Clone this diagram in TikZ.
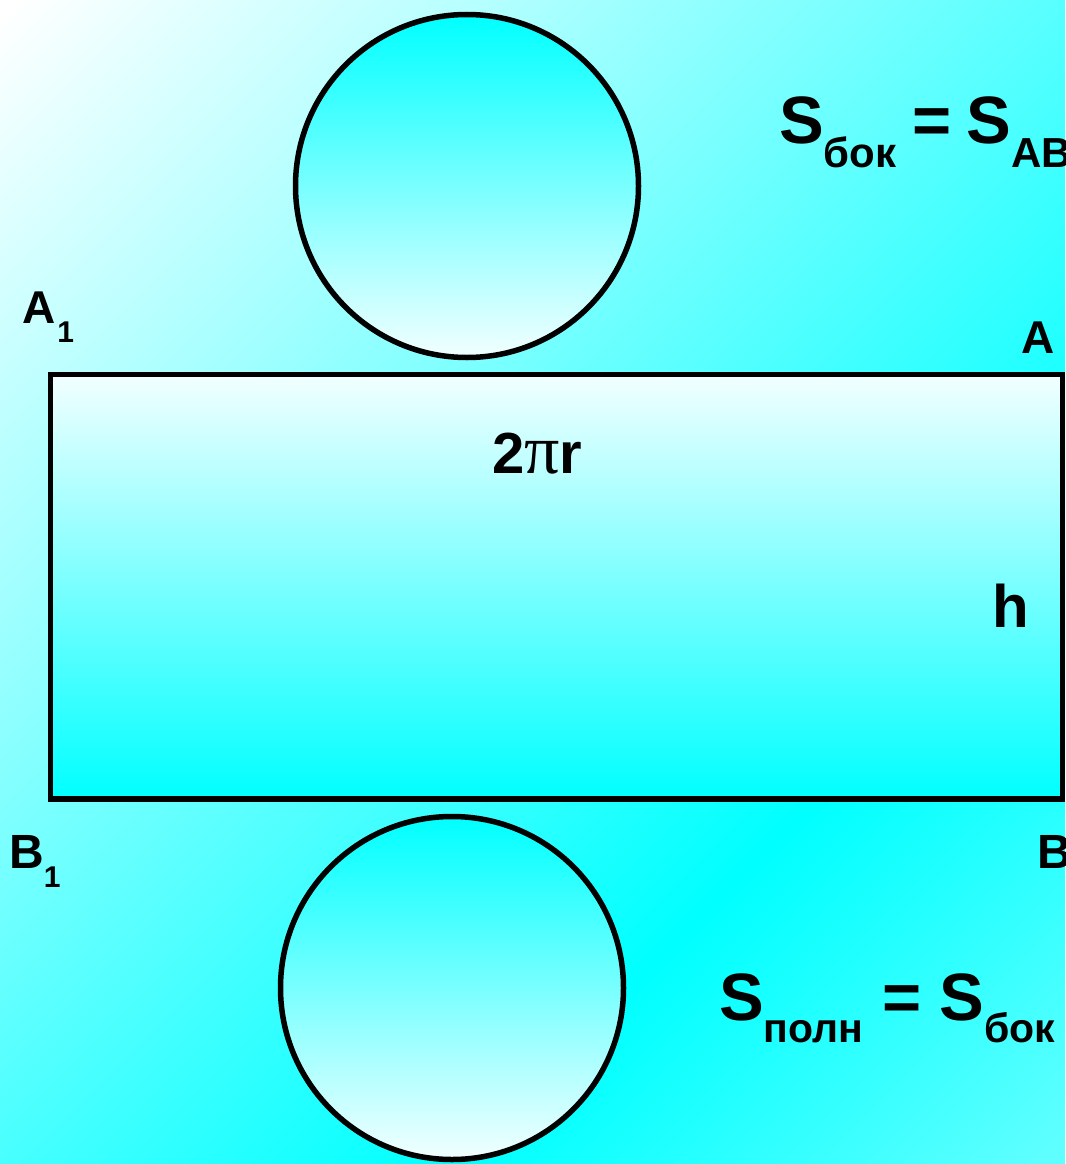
\documentclass[tikz,border=0pt]{standalone}
\usepackage{fontspec}
\setmainfont{Liberation Sans}
\newfontfamily\greekserif{Liberation Serif}
\definecolor{bgend}{HTML}{60FFFF}
\definecolor{lightc}{HTML}{F2FFFF}
\pgfdeclarehorizontalshading{bgshade}{100bp}{color(0bp)=(white); color(15bp)=(white); color(66bp)=(cyan); color(85bp)=(bgend); color(100bp)=(bgend)}
\newcommand\subtxt[3]{\raisebox{-#1pt}{\fontsize{#2}{#2}\selectfont #3}}
\tikzset{
  outline/.style={draw=black, line width=5.5pt},
  lbl/.style={anchor=base west, inner sep=0pt, font=\bfseries},
  disc/.style={circle, outline, inner sep=0pt, minimum size=343pt, top color=cyan, bottom color=lightc},
}
\begin{document}
\begin{tikzpicture}[x=1pt, y=-1pt]
\useasboundingbox (0,0) rectangle (1065,1164);
\begin{scope}
\clip (0,0) rectangle (1065,1164);
\shade[shading=bgshade, shading angle=-45] (0,0) rectangle (1065,1164);
% net of cylinder
\node[disc] (topdisc) at (467,186) {};
\node[disc] (botdisc) at (452,988) {};
\draw[outline, top color=lightc, bottom color=cyan] (50.5,374.5) rectangle (1062.5,799);
% vertex labels
\node[lbl] (A1) at (22,323) {\fontsize{46}{46}\selectfont A\kern2pt\subtxt{19}{30}{1}};
\node[lbl] (A) at (1021,353) {\fontsize{46}{46}\selectfont A};
\node[lbl] (B1) at (9,868) {\fontsize{48}{48}\selectfont B\subtxt{19}{30}{1}};
\node[lbl] (B) at (1037,868) {\fontsize{48}{48}\selectfont B};
% dimensions
\node[lbl] (len) at (492,473) {\fontsize{58}{58}\selectfont 2{\mdseries\greekserif\fontsize{70}{70}\selectfont π}r};
\node[lbl] (hgt) at (992,627) {\fontsize{60}{60}\selectfont h};
% formulas
\node[lbl] (fbok) at (779,143) {\fontsize{67}{67}\selectfont S\subtxt{24}{42}{бок}\hspace{16pt}=\hspace{15pt}S\subtxt{24}{42}{AB}};
\node[lbl] (fpoln) at (719,1020) {\fontsize{67}{67}\selectfont S\subtxt{22}{41}{полн} = S\subtxt{22}{41}{бок}};
\end{scope}
\end{tikzpicture}
\end{document}
